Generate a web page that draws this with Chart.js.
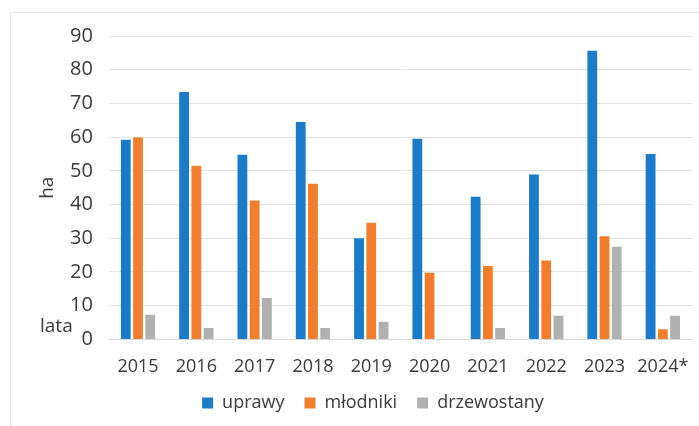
<!DOCTYPE html>
<html>
<head>
<meta charset="utf-8">
<script src="https://cdn.jsdelivr.net/npm/chart.js@4/dist/chart.umd.min.js"></script>
<style>
  html, body { margin: 0; padding: 0; background: #fff; }
  #wrap { position: relative; width: 699px; height: 426px; }
  #frame { position: absolute; left: 10px; top: 12px; width: 700px; height: 420px;
           border-left: 1px solid #e6e6e6; border-top: 1px solid #e6e6e6; }
</style>
</head>
<body>
<div id="wrap">
  <div id="frame"></div>
  <canvas id="chart" width="699" height="426"></canvas>
</div>
<script>
const years = ['2015', '2016', '2017', '2018', '2019', '2020', '2021', '2022', '2023', '2024*'];
const uprawy = [59.2, 73.4, 54.8, 64.5, 30.0, 59.5, 42.3, 48.9, 85.6, 55.0];
const mlodniki = [59.9, 51.5, 41.2, 46.2, 34.6, 19.8, 21.8, 23.4, 30.6, 3.0];
const drzewostany = [7.3, 3.4, 12.3, 3.4, 5.2, 0, 3.4, 7.0, 27.5, 7.0];

const FONT = "'Open Sans', sans-serif";
const TXT = '#3a3a3a';

// axis captions: rotated "ha" and "lata" next to the 0 tick
const captions = {
    id: 'captions',
    afterDraw(chart) {
        const ctx = chart.ctx;
        const ys = chart.scales.y;
        ctx.save();
        ctx.font = '19px ' + FONT;
        ctx.fillStyle = TXT;
        ctx.textAlign = 'left';
        ctx.textBaseline = 'middle';
        ctx.fillText('lata', 40, ys.getPixelForValue(0) - 13);
        ctx.translate(48, (ys.top + ys.bottom) / 2);
        ctx.rotate(-Math.PI / 2);
        ctx.textAlign = 'center';
        ctx.fillText('ha', 0, 0);
        ctx.restore();
    }
};

// legend padding is wide for item spacing, so pull the legend up a bit
const legendShift = {
    id: 'legendShift',
    afterLayout(chart) {
        chart.legend.top -= 13;
        chart.legend.bottom -= 13;
    }
};

new Chart(document.getElementById('chart'), {
    type: 'bar',
    data: {
        labels: years,
        datasets: [
            { label: 'uprawy', data: uprawy, backgroundColor: '#1b7bc6' },
            { label: 'młodniki', data: mlodniki, backgroundColor: '#ef7f2e' },
            { label: 'drzewostany', data: drzewostany, backgroundColor: '#b0b0b0' }
        ]
    },
    options: {
        responsive: false,
        animation: false,
        layout: { padding: { left: 54, right: 7, top: 36, bottom: -9 } },
        datasets: { bar: { categoryPercentage: 0.63, barPercentage: 0.8 } },
        scales: {
            x: {
                grid: { display: false },
                border: { color: '#d9d9d9' },
                ticks: { color: TXT, font: { family: FONT, size: 18 }, padding: 9, maxRotation: 0, autoSkip: false }
            },
            y: {
                min: 0, max: 90,
                grid: { color: '#e3e3e3', drawTicks: false },
                border: { display: false },
                ticks: { stepSize: 10, color: TXT, font: { family: FONT, size: 20 }, padding: 16 }
            }
        },
        plugins: {
            legend: {
                position: 'bottom',
                labels: { color: TXT, font: { family: FONT, size: 18 }, boxWidth: 11, boxHeight: 11, padding: 20 }
            },
            tooltip: { enabled: false }
        }
    },
    plugins: [captions, legendShift]
});
</script>
</body>
</html>
